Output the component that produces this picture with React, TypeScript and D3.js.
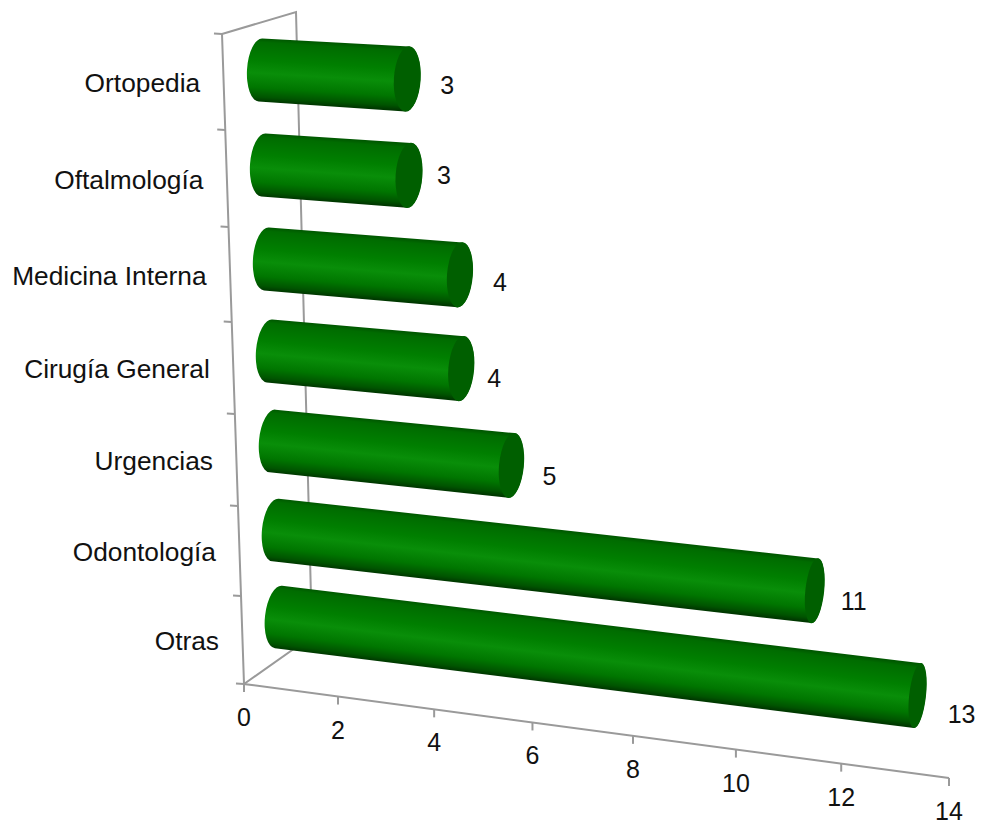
import React from "react";
import * as d3 from "d3";

// Specialities from the chart floor upwards, with their counts.
const categories = ["Otras", "Odontología", "Urgencias", "Cirugía General", "Medicina Interna", "Oftalmología", "Ortopedia"];
const values = [13, 11, 5, 4, 4, 3, 3];
const valueTicks = [0, 2, 4, 6, 8, 10, 12, 14];

const WIDTH = 981;
const HEIGHT = 823;
const AXIS_COLOR = "#9a9a9a";
const FONT = "'Liberation Sans', Arial, sans-serif";

// Front edge of the floor, with the perspective foreshortening of the value axis.
const FLOOR_START = { x: 244, y: 684 };
const FLOOR_END = { x: 949, y: 778 };
const FORESHORTEN = 1.083;
const axisFraction = (v: number) => {
  const u = v / 14;
  return u / (u + FORESHORTEN * (1 - u));
};

// Left wall edge: category boundaries get a little shorter towards the back.
const wallY = d3.scaleLinear().domain(d3.range(8)).range([684, 596, 506, 414, 322, 227, 130, 34]);
const wallX = d3.scaleLinear().domain([684, 34]).range([244, 222]);

// Cylinder geometry per category slot.
const baseEdgeX = d3.scaleLinear().domain([0, 6]).range([265, 247]);
const baseY = d3.scaleLinear().domain(d3.range(7)).range([617, 530, 441, 351, 259, 165, 70]);
const slope = d3.scaleLinear().domain([0, 6]).range([0.123, 0.061]);
const tilt = d3.scaleLinear().domain([0, 6]).range([6.5, 3.5]);
const lengthFactor = d3.scaleLinear().domain([0, 6]).range([0.982, 1.035]);
const capRx = d3.scaleLinear().domain([3, 13]).range([13, 8]);
const BASE_RX = 13.5;
const BASE_RY = 31.5;
const CAP_RY = 32.5;

// Hand placement of the value labels relative to each end cap.
const valueLabelShift = [[44, 18], [39, 10], [38, 11], [33, 9], [40, 7], [35, 0], [40, 6]];

const rotated = (cx: number, cy: number, ry: number, deg: number, sign: number) => {
  const a = (deg * Math.PI) / 180;
  return [cx + sign * ry * Math.sin(a), cy - sign * ry * Math.cos(a)];
};

export default function App() {
  const floorPoint = (v: number) => {
    const s = axisFraction(v);
    return {
      x: FLOOR_START.x + s * (FLOOR_END.x - FLOOR_START.x),
      y: FLOOR_START.y + s * (FLOOR_END.y - FLOOR_START.y),
    };
  };

  const bars = categories.map((name, i) => {
    const v = values[i];
    const lx = baseEdgeX(i) + BASE_RX;
    const ly = baseY(i);
    const dx = axisFraction(v) * (FLOOR_END.x - FLOOR_START.x) * lengthFactor(i);
    const rx = lx + dx;
    const ry = ly + dx * slope(i);
    const rot = tilt(i);
    const crx = capRx(v);
    const [ltx, lty] = rotated(lx, ly, BASE_RY, rot, 1);
    const [lbx, lby] = rotated(lx, ly, BASE_RY, rot, -1);
    const [rtx, rty] = rotated(rx, ry, CAP_RY, rot, 1);
    const [rbx, rby] = rotated(rx, ry, CAP_RY, rot, -1);
    const d =
      `M${ltx},${lty}` +
      `A${BASE_RX},${BASE_RY} ${rot} 0 0 ${lbx},${lby}` +
      `L${rbx},${rby}` +
      `A${crx},${CAP_RY} ${rot} 0 0 ${rtx},${rty}Z`;
    const theta = Math.atan(slope(i));
    const nx = -Math.sin(theta);
    const ny = Math.cos(theta);
    return { name, v, i, lx, ly, rx, ry, rot, crx, d, nx, ny };
  });

  return (
    <svg
      width={WIDTH}
      height={HEIGHT}
      viewBox={`0 0 ${WIDTH} ${HEIGHT}`}
      style={{ position: "absolute", left: 0, top: 0, background: "#fff" }}
      fontFamily={FONT}
      fontSize={25}
      fill="#111"
    >
      <defs>
        {bars.map((b) => (
          <linearGradient
            key={b.i}
            id={`cyl-${b.i}`}
            gradientUnits="userSpaceOnUse"
            x1={b.lx - b.nx * BASE_RY}
            y1={b.ly - b.ny * BASE_RY}
            x2={b.lx + b.nx * BASE_RY}
            y2={b.ly + b.ny * BASE_RY}
          >
            <stop offset="0" stopColor="#005800" />
            <stop offset="0.06" stopColor="#006c00" />
            <stop offset="0.35" stopColor="#007f00" />
            <stop offset="0.55" stopColor="#098e09" />
            <stop offset="0.78" stopColor="#007600" />
            <stop offset="0.93" stopColor="#005400" />
            <stop offset="1" stopColor="#003800" />
          </linearGradient>
        ))}
      </defs>

      {/* Back wall and floor edges */}
      <g stroke={AXIS_COLOR} strokeWidth={2} fill="none">
        <path d={`M222,34L296,12L312,636L${FLOOR_START.x},${FLOOR_START.y}`} />
        <path d={`M222,34L${FLOOR_START.x},${FLOOR_START.y}L${FLOOR_END.x},${FLOOR_END.y}`} />
        {d3.range(8).map((k) => {
          const y = wallY(k);
          const x = wallX(y);
          return <line key={k} x1={x - 8} y1={y - 0.5} x2={x} y2={y} />;
        })}
        {valueTicks.map((t) => {
          const p = floorPoint(t);
          return <line key={t} x1={p.x} y1={p.y} x2={p.x} y2={p.y + 8} />;
        })}
      </g>

      {/* Cylinders, back row first */}
      {[...bars].reverse().map((b) => (
        <g key={b.name}>
          <path d={b.d} fill={`url(#cyl-${b.i})`} />
          <ellipse
            cx={b.rx}
            cy={b.ry}
            rx={b.crx + 0.4}
            ry={CAP_RY + 0.2}
            fill="#005f00"
            transform={`rotate(${b.rot} ${b.rx} ${b.ry})`}
          />
        </g>
      ))}

      {/* Category labels */}
      {categories.map((name, i) => {
        const y = (wallY(i) + wallY(i + 1)) / 2;
        return (
          <text
            key={name}
            x={wallX(y) - 23.5}
            y={y + 1}
            fontSize={26.3}
            textAnchor="end"
            dominantBaseline="central"
          >
            {name}
          </text>
        );
      })}

      {/* Value axis labels */}
      {valueTicks.map((t) => {
        const p = floorPoint(t);
        return (
          <text key={t} x={p.x} y={p.y + 33} textAnchor="middle" dominantBaseline="central">
            {t}
          </text>
        );
      })}

      {/* Count at the end of each cylinder */}
      {bars.map((b, i) => (
        <text
          key={b.name}
          x={b.rx + valueLabelShift[i][0]}
          y={b.ry + valueLabelShift[i][1]}
          textAnchor="middle"
          dominantBaseline="central"
        >
          {b.v}
        </text>
      ))}
    </svg>
  );
}
